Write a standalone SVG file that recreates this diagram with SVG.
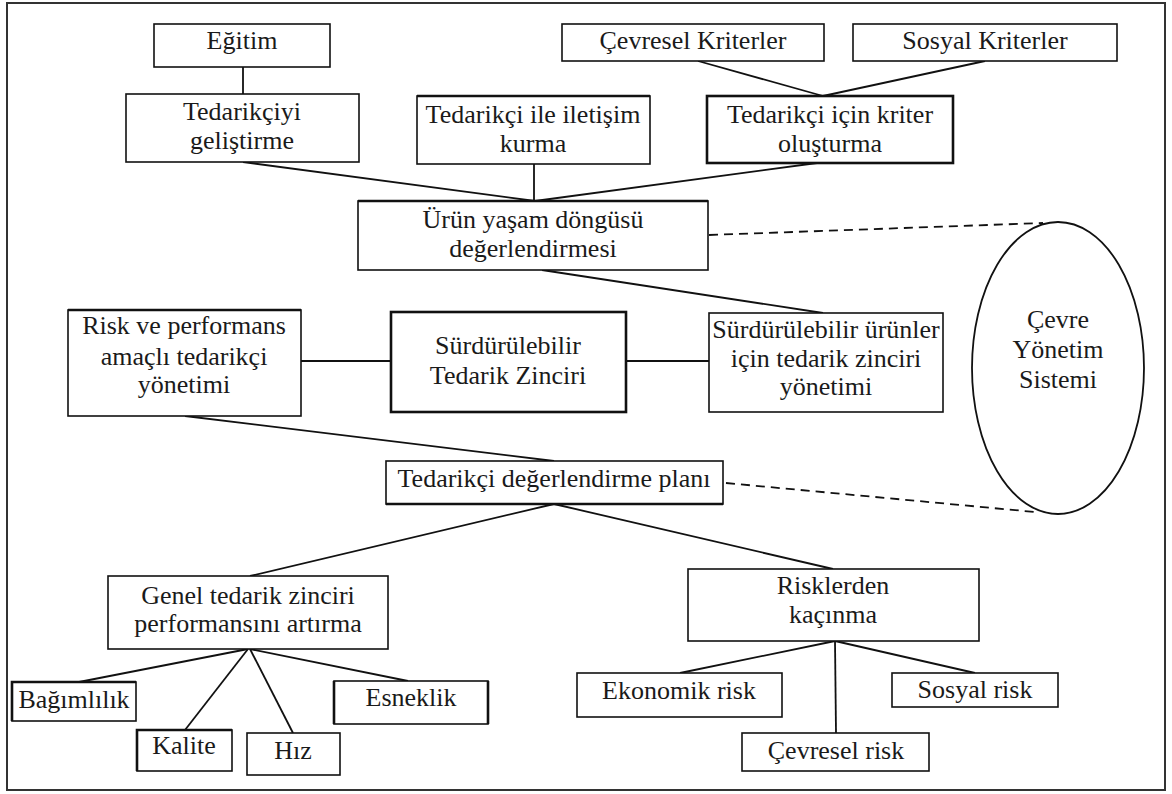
<svg xmlns="http://www.w3.org/2000/svg" width="1172" height="794" viewBox="0 0 1172 794">
  <style>
    .box { fill: #fff; stroke: #111; stroke-width: 1.6; }
    .thick { stroke-width: 2.6; }
    .edge { stroke: #111; stroke-width: 2.6; fill: none; }
    .lbl { font-size: 26px; fill: #1a1a1a; text-anchor: middle; }
    .conn line { stroke: #111; stroke-width: 1.8; }
    .conn .dash { stroke-dasharray: 9 6; }
  </style>

  <!-- outer frame -->
  <rect x="7" y="3" width="1158" height="787" fill="#fff" stroke="#333" stroke-width="2"/>

  <!-- connectors -->
  <g id="connectors" class="conn">
    <line x1="243" y1="67" x2="243" y2="94"/>
    <line x1="243" y1="162" x2="535" y2="201"/>
    <line x1="534" y1="164" x2="534" y2="201"/>
    <line x1="817" y1="163" x2="535" y2="201"/>
    <line x1="698" y1="61" x2="823" y2="96"/>
    <line x1="985" y1="61" x2="823" y2="96"/>
    <line x1="542" y1="270" x2="823" y2="313"/>
    <line x1="301" y1="361" x2="391" y2="361"/>
    <line x1="626" y1="361" x2="709" y2="361"/>
    <line x1="185" y1="416" x2="554" y2="461"/>
    <line x1="554" y1="504" x2="250" y2="576"/>
    <line x1="554" y1="504" x2="833" y2="569"/>
    <line x1="248" y1="649" x2="79" y2="682"/>
    <line x1="248" y1="649" x2="185" y2="730"/>
    <line x1="250" y1="649" x2="293" y2="733"/>
    <line x1="250" y1="649" x2="408" y2="681"/>
    <line x1="835" y1="641" x2="680" y2="673"/>
    <line x1="835" y1="641" x2="836" y2="733"/>
    <line x1="835" y1="641" x2="975" y2="673"/>
    <line class="dash" x1="709" y1="235" x2="1043" y2="223"/>
    <line class="dash" x1="726" y1="483" x2="1035" y2="512"/>
  </g>

  <g font-family="Liberation Serif, Times New Roman, Times, serif">
  <!-- top row -->
  <g id="egitim">
    <rect class="box" x="154" y="24" width="176" height="43"/>
    <text class="lbl" x="242" y="49">Eğitim</text>
  </g>
  <g id="cevresel-kriterler">
    <rect class="box" x="562" y="24" width="262" height="37"/>
    <text class="lbl" x="693" y="49">Çevresel Kriterler</text>
  </g>
  <g id="sosyal-kriterler">
    <rect class="box" x="853" y="24" width="264" height="37"/>
    <text class="lbl" x="985" y="49">Sosyal Kriterler</text>
  </g>

  <!-- second row -->
  <g id="tedarikciyi-gelistirme">
    <rect class="box" x="126" y="94" width="233" height="68"/>
    <text class="lbl" x="242" y="120">Tedarikçiyi</text>
    <text class="lbl" x="242" y="149">geliştirme</text>
  </g>
  <g id="iletisim-kurma">
    <rect class="box" x="417" y="96" width="233" height="68"/>
    <line class="edge" x1="417" y1="96" x2="650" y2="96"/>
    <text class="lbl" x="533" y="123">Tedarikçi ile iletişim</text>
    <text class="lbl" x="533" y="152">kurma</text>
  </g>
  <g id="kriter-olusturma">
    <rect class="box thick" x="707" y="96" width="246" height="67"/>
    <text class="lbl" x="830" y="123">Tedarikçi için kriter</text>
    <text class="lbl" x="830" y="152">oluşturma</text>
  </g>

  <!-- life-cycle assessment -->
  <g id="urun-yasam-dongusu">
    <rect class="box" x="358" y="201" width="350" height="69"/>
    <line class="edge" x1="358" y1="201" x2="708" y2="201"/>
    <text class="lbl" x="533" y="228">Ürün yaşam döngüsü</text>
    <text class="lbl" x="533" y="257">değerlendirmesi</text>
  </g>

  <!-- middle row -->
  <g id="risk-performans">
    <rect class="box" x="68" y="310" width="233" height="106"/>
    <line class="edge" x1="68" y1="310" x2="301" y2="310"/>
    <text class="lbl" x="184" y="334">Risk ve performans</text>
    <text class="lbl" x="184" y="365">amaçlı tedarikçi</text>
    <text class="lbl" x="184" y="393">yönetimi</text>
  </g>
  <g id="surdurulebilir-tz">
    <rect class="box thick" x="391" y="312" width="235" height="100"/>
    <text class="lbl" x="508" y="354">Sürdürülebilir</text>
    <text class="lbl" x="508" y="384">Tedarik Zinciri</text>
  </g>
  <g id="surdurulebilir-urunler">
    <rect class="box" x="709" y="313" width="234" height="99"/>
    <text class="lbl" x="826" y="338">Sürdürülebilir ürünler</text>
    <text class="lbl" x="826" y="367">için tedarik zinciri</text>
    <text class="lbl" x="826" y="395">yönetimi</text>
  </g>

  <!-- environmental management system -->
  <g id="cevre-yonetim-sistemi">
    <ellipse cx="1058" cy="368" rx="86" ry="146" fill="#fff" stroke="#111" stroke-width="1.8"/>
    <text class="lbl" x="1058" y="328">Çevre</text>
    <text class="lbl" x="1058" y="358">Yönetim</text>
    <text class="lbl" x="1058" y="388">Sistemi</text>
  </g>

  <!-- evaluation plan -->
  <g id="degerlendirme-plani">
    <rect class="box" x="386" y="461" width="337" height="43"/>
    <line class="edge" x1="386" y1="504" x2="723" y2="504"/>
    <text class="lbl" x="554" y="487">Tedarikçi değerlendirme planı</text>
  </g>

  <!-- performance branch -->
  <g id="genel-performans">
    <rect class="box" x="108" y="576" width="280" height="73"/>
    <text class="lbl" x="248" y="604">Genel tedarik zinciri</text>
    <text class="lbl" x="248" y="632">performansını artırma</text>
  </g>
  <g id="bagimlilik">
    <rect class="box" x="12" y="682" width="124" height="39"/>
    <path class="edge" d="M12 721 V682 H136"/>
    <text class="lbl" x="74" y="708">Bağımlılık</text>
  </g>
  <g id="kalite">
    <rect class="box" x="137" y="730" width="95" height="41"/>
    <path class="edge" d="M137 771 V730 H232"/>
    <text class="lbl" x="184" y="754">Kalite</text>
  </g>
  <g id="hiz">
    <rect class="box" x="247" y="733" width="93" height="42"/>
    <text class="lbl" x="293" y="759">Hız</text>
  </g>
  <g id="esneklik">
    <rect class="box" x="334" y="681" width="154" height="43"/>
    <line class="edge" x1="334" y1="681" x2="334" y2="724"/>
    <line class="edge" x1="488" y1="681" x2="488" y2="724"/>
    <text class="lbl" x="411" y="706">Esneklik</text>
  </g>

  <!-- risk branch -->
  <g id="risklerden-kacinma">
    <rect class="box" x="688" y="569" width="291" height="72"/>
    <text class="lbl" x="833" y="594">Risklerden</text>
    <text class="lbl" x="833" y="623">kaçınma</text>
  </g>
  <g id="ekonomik-risk">
    <rect class="box" x="577" y="673" width="205" height="44"/>
    <text class="lbl" x="679" y="699">Ekonomik risk</text>
  </g>
  <g id="cevresel-risk">
    <rect class="box" x="742" y="733" width="187" height="38"/>
    <text class="lbl" x="836" y="759">Çevresel risk</text>
  </g>
  <g id="sosyal-risk">
    <rect class="box" x="892" y="673" width="166" height="34"/>
    <text class="lbl" x="975" y="698">Sosyal risk</text>
  </g>
  </g>
</svg>
